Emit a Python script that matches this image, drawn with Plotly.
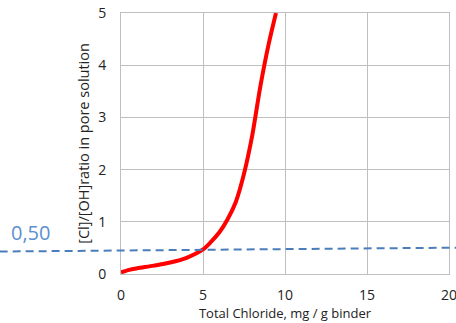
import plotly.graph_objects as go

# Data
total_chloride = [0, 0.5, 1, 2, 3, 4, 5, 5.5, 6, 6.5, 7, 7.5, 8, 8.5, 9, 9.45]
cl_oh_ratio = [0.03, 0.08, 0.11, 0.16, 0.22, 0.31, 0.47, 0.62, 0.8, 1.05, 1.38, 1.92, 2.65, 3.6, 4.4, 5.0]

x_ticks = [0, 5, 10, 15, 20]
y_ticks = [0, 1, 2, 3, 4, 5]

# reference (threshold) line endpoints in data units, as drawn in the source (slightly tilted)
ref_x = [-7.4, 20.5]
ref_y = [0.43, 0.505]
ref_label = "0,50"

x_range = [0, 20]
y_range = [0, 5]

FONT = "Open Sans, sans-serif"

fig = go.Figure()
fig.add_trace(go.Scatter(
    x=total_chloride, y=cl_oh_ratio, mode="lines",
    line=dict(color="#ff0000", width=4, shape="spline", smoothing=0.8),
    showlegend=False, hoverinfo="skip"))

def to_px(v, r):
    return (v - r[0]) / (r[1] - r[0])

fig.add_shape(type="line", xref="paper", yref="paper",
              x0=to_px(ref_x[0], x_range), x1=to_px(ref_x[1], x_range),
              y0=to_px(ref_y[0], y_range), y1=to_px(ref_y[1], y_range),
              line=dict(color="#4a7ebb", width=2, dash="8px,5px"), layer="above")

fig.add_annotation(xref="paper", yref="paper",
                   x=to_px(ref_x[0], x_range) + 0.028, y=to_px(0.79, y_range),
                   xanchor="left", yanchor="middle", text=ref_label, showarrow=False,
                   font=dict(family=FONT, size=20, color="#5b8fd0"))

axis_common = dict(showgrid=True, gridcolor="#bfbfbf", gridwidth=1, zeroline=False,
                   showline=True, mirror=True, linecolor="#bfbfbf", linewidth=1,
                   ticks="", automargin=False, ticklabeloverflow="allow",
                   tickfont=dict(family=FONT, size=14, color="#222"))

fig.update_xaxes(range=x_range, tickvals=x_ticks, ticklabelstandoff=8,
                 title=dict(text="Total Chloride, mg / g binder", standoff=3,
                            font=dict(family=FONT, size=13, color="#222")),
                 **axis_common)
fig.update_yaxes(range=y_range, tickvals=y_ticks, ticklabelstandoff=11,
                 title=dict(text="[Cl]/[OH]ratio in pore solution", standoff=5,
                            font=dict(family=FONT, size=14.5, color="#222")),
                 **axis_common)

fig.update_layout(width=456, height=323, margin=dict(l=121, r=7, t=13, b=49),
                  plot_bgcolor="white", paper_bgcolor="white")

fig.write_html("out.html", config={"displayModeBar": False},
               post_script="document.body.style.margin='0';document.body.style.overflow='hidden';")
